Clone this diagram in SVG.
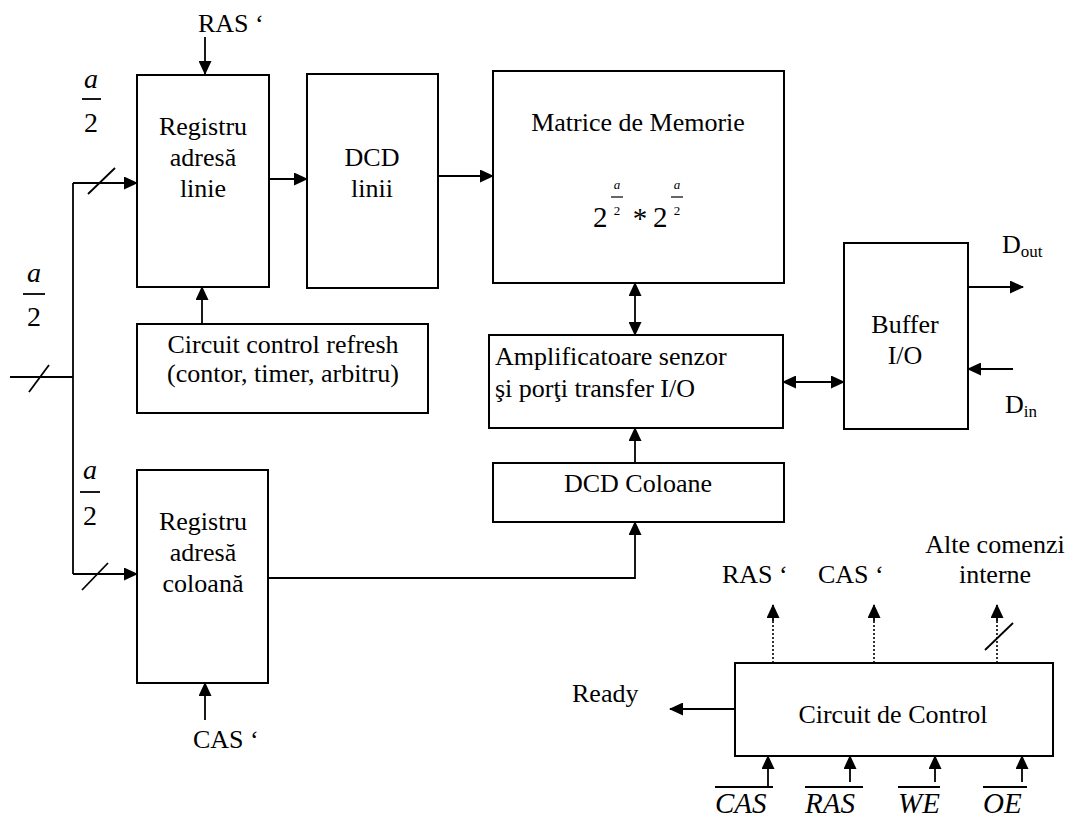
<svg xmlns="http://www.w3.org/2000/svg" width="1069" height="821" viewBox="0 0 1069 821">
  <style>
    .box { fill: #ffffff; stroke: #000000; stroke-width: 2; }
    .ln { fill: none; stroke: #000000; stroke-width: 1.8; }
    .dot { fill: none; stroke: #000000; stroke-width: 1.6; stroke-dasharray: 2 2; }
    .t { font-family: "Liberation Serif", "Times New Roman", serif; font-size: 26px; fill: #000000; }
    .c { text-anchor: middle; }
    .it { font-style: italic; }
    .frac { font-family: "Liberation Serif", "Times New Roman", serif; font-size: 28px; text-anchor: middle; fill: #000000; }
    .sm { font-family: "Liberation Serif", "Times New Roman", serif; font-size: 13px; text-anchor: middle; fill: #000000; }
    .sig { font-family: "Liberation Serif", "Times New Roman", serif; font-size: 29px; font-style: italic; fill: #000000; }
  </style>
  <defs>
    <marker id="arr" markerUnits="userSpaceOnUse" markerWidth="14" markerHeight="13" refX="13" refY="6.5" orient="auto-start-reverse">
      <path d="M0,0 L14,6.5 L0,13 z" fill="#000000"/>
    </marker>
  </defs>

  <rect width="1069" height="821" fill="#ffffff"/>

  <!-- connectors -->
  <g id="connectors">
    <!-- address bus split -->
    <path class="ln" d="M10,377 H73"/>
    <path class="ln" d="M29,392 L49,365"/>
    <path class="ln" d="M73,183 V574"/>
    <path class="ln" d="M73,183 H137" marker-end="url(#arr)"/>
    <path class="ln" d="M88,194 L115,168"/>
    <path class="ln" d="M73,574 H137" marker-end="url(#arr)"/>
    <path class="ln" d="M82,590 L108,563"/>
    <!-- row path -->
    <path class="ln" d="M205,37 V74" marker-end="url(#arr)"/>
    <path class="ln" d="M202,324 V287" marker-end="url(#arr)"/>
    <path class="ln" d="M269,179 H307" marker-end="url(#arr)"/>
    <path class="ln" d="M438,176 H493" marker-end="url(#arr)"/>
    <!-- column path -->
    <path class="ln" d="M205,720 V683" marker-end="url(#arr)"/>
    <path class="ln" d="M268,578 H635 V522" marker-end="url(#arr)"/>
    <path class="ln" d="M635,463 V428" marker-end="url(#arr)"/>
    <!-- data path -->
    <path class="ln" d="M635,283 V335" marker-start="url(#arr)" marker-end="url(#arr)"/>
    <path class="ln" d="M783,382 H844" marker-start="url(#arr)" marker-end="url(#arr)"/>
    <path class="ln" d="M968,287 H1023" marker-end="url(#arr)"/>
    <path class="ln" d="M1013,369 H968" marker-end="url(#arr)"/>
    <!-- control outputs -->
    <path class="ln" d="M735,709 H670" marker-end="url(#arr)"/>
    <path class="dot" d="M773,663 V620"/>
    <path class="ln" d="M773,621 V605" marker-end="url(#arr)"/>
    <path class="dot" d="M874,663 V620"/>
    <path class="ln" d="M874,621 V605" marker-end="url(#arr)"/>
    <path class="dot" d="M997,663 V620"/>
    <path class="ln" d="M997,621 V605" marker-end="url(#arr)"/>
    <path class="ln" d="M985,650 L1013,623"/>
    <!-- control inputs -->
    <path class="ln" d="M768,787 V756" marker-end="url(#arr)"/>
    <path class="ln" d="M850,782 V756" marker-end="url(#arr)"/>
    <path class="ln" d="M935,782 V756" marker-end="url(#arr)"/>
    <path class="ln" d="M1022,782 V756" marker-end="url(#arr)"/>
  </g>

  <!-- bus width labels -->
  <g id="bus-labels">
    <text class="frac it" x="91" y="88">a</text>
    <path class="ln" d="M82,99 H101"/>
    <text class="frac" x="91" y="132">2</text>

    <text class="frac it" x="34" y="282">a</text>
    <path class="ln" d="M23,294 H45"/>
    <text class="frac" x="34" y="326">2</text>

    <text class="frac it" x="90" y="479">a</text>
    <path class="ln" d="M80,492 H100"/>
    <text class="frac" x="90" y="525">2</text>
  </g>

  <g id="ras-top">
    <text class="t" x="198" y="32">RAS ‘</text>
  </g>

  <g id="reg-linie">
    <rect class="box" x="137" y="75" width="132" height="212"/>
    <text class="t c" x="203" y="135">Registru</text>
    <text class="t c" x="203" y="166">adresă</text>
    <text class="t c" x="203" y="197">linie</text>
  </g>

  <g id="dcd-linii">
    <rect class="box" x="307" y="74" width="131" height="214"/>
    <text class="t c" x="372" y="166">DCD</text>
    <text class="t c" x="372" y="197">linii</text>
  </g>

  <g id="matrice">
    <rect class="box" x="493" y="71" width="291" height="212"/>
    <text class="t c" x="638" y="131">Matrice de Memorie</text>
    <text class="t" x="593" y="227" style="font-size:29px">2</text>
    <text class="sm it" x="617" y="189">a</text>
    <path d="M611,197 H623" stroke="#000" stroke-width="1.2"/>
    <text class="sm" x="617" y="215">2</text>
    <text class="t c" x="640" y="228" style="font-size:29px">*</text>
    <text class="t" x="653" y="227" style="font-size:29px">2</text>
    <text class="sm it" x="677" y="189">a</text>
    <path d="M671,197 H683" stroke="#000" stroke-width="1.2"/>
    <text class="sm" x="677" y="215">2</text>
  </g>

  <g id="refresh">
    <rect class="box" x="137" y="324" width="291" height="89"/>
    <text class="t c" x="283" y="353">Circuit control refresh</text>
    <text class="t c" x="283" y="382">(contor, timer, arbitru)</text>
  </g>

  <g id="amplificatoare">
    <rect class="box" x="489" y="335" width="294" height="93"/>
    <text class="t" x="495" y="365">Amplificatoare senzor</text>
    <text class="t" x="495" y="397">şi porţi transfer I/O</text>
  </g>

  <g id="dcd-coloane">
    <rect class="box" x="493" y="463" width="291" height="59"/>
    <text class="t c" x="638" y="492">DCD Coloane</text>
  </g>

  <g id="buffer">
    <rect class="box" x="844" y="243" width="124" height="186"/>
    <text class="t c" x="905" y="333">Buffer</text>
    <text class="t c" x="905" y="364">I/O</text>
  </g>

  <g id="dout">
    <text class="t" x="1002" y="253">D<tspan style="font-size:17px" dy="4">out</tspan></text>
  </g>
  <g id="din">
    <text class="t" x="1005" y="413">D<tspan style="font-size:17px" dy="4">in</tspan></text>
  </g>

  <g id="reg-coloana">
    <rect class="box" x="137" y="470" width="131" height="213"/>
    <text class="t c" x="203" y="530">Registru</text>
    <text class="t c" x="203" y="561">adresă</text>
    <text class="t c" x="203" y="592">coloană</text>
  </g>

  <g id="cas-bottom">
    <text class="t" x="193" y="748">CAS ‘</text>
  </g>

  <g id="control">
    <rect class="box" x="735" y="663" width="318" height="93"/>
    <text class="t c" x="893" y="723">Circuit de Control</text>
  </g>

  <g id="ready">
    <text class="t" x="572" y="702">Ready</text>
  </g>

  <g id="control-outputs">
    <text class="t" x="722" y="583">RAS ‘</text>
    <text class="t" x="818" y="583">CAS ‘</text>
    <text class="t c" x="995" y="553">Alte comenzi</text>
    <text class="t c" x="995" y="583">interne</text>
  </g>

  <g id="control-inputs">
    <path class="ln" d="M715,787 H773"/>
    <text class="sig" x="715" y="813">CAS</text>
    <path class="ln" d="M805,787 H863"/>
    <text class="sig" x="805" y="813">RAS</text>
    <path class="ln" d="M898,787 H940"/>
    <text class="sig" x="898" y="813">WE</text>
    <path class="ln" d="M983,787 H1027"/>
    <text class="sig" x="983" y="813">OE</text>
  </g>
</svg>
